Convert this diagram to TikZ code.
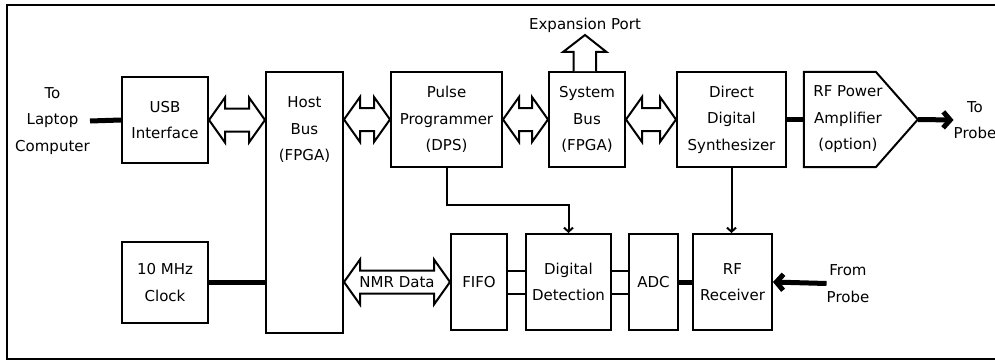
\documentclass[tikz,border=0pt]{standalone}
\usepackage{fontspec}
\setmainfont{DejaVu Sans}
\usetikzlibrary{arrows.meta,calc}
\tikzset{
    blk/.style = {draw, line width=2pt, inner sep=0pt, align=center,
        font=\fontsize{15}{26.5}\selectfont},
    txt/.style = {inner sep=0pt, align=center,
        font=\fontsize{15}{26.5}\selectfont},
    bus/.style = {draw, line width=2pt, fill=white, line join=miter},
    sig/.style = {line width=2pt},
    fat/.style = {line width=5pt},
}
% double block arrow between two tips on one level
\newcommand{\busarrow}[2]{%
    \draw[bus] (#1) -- ++(16,-22.5) -- ++(0,11) -- ($(#2)+(-16,-11.5)$)
        -- ++(0,-11) -- (#2) -- ++(-16,22.5) -- ++(0,-11)
        -- ($(#1)+(16,11.5)$) -- ++(0,11) -- cycle;}

\begin{document}
\begin{tikzpicture}[x=1pt,y=-1pt]
\useasboundingbox (0,0) rectangle (995,361);
\draw[line width=2pt] (7,5) rectangle (1010,359);

% upper row
\node[txt] (laptop) at (52.5,121) {To\\Laptop\\Computer};
\node[blk, minimum width=86, minimum height=86] (usb) at (165,120) {USB\\Interface};
\node[blk, minimum width=77, minimum height=261] (host) at (304.5,202.5) {};
\node[txt] (hosttxt) at (304.5,130) {Host\\Bus\\(FPGA)};
\node[blk, minimum width=111, minimum height=95] (pulse) at (446.5,119.5) {Pulse\\Programmer\\(DPS)};
\node[blk, minimum width=76, minimum height=95] (sysbus) at (587,119.5) {System\\Bus\\(FPGA)};
\node[txt] (expport) at (585,25) {Expansion Port};
\node[blk, minimum width=109, minimum height=95] (dds) at (731.5,119.5) {Direct\\Digital\\Synthesizer};
\node[txt, minimum width=88, minimum height=95] (amp) at (848,119.5) {RF Power\\Amplifier\\(option)};
\draw[sig] (amp.north west) -- ++(72,0) -- ($(amp.west)+(114,0)$) coordinate (amptip)
    -- ($(amp.south west)+(72,0)$) -- (amp.south west) -- cycle;
\node[txt] (toprobe) at (975,120) {To\\Probe};

% lower row
\node[blk, minimum width=86, minimum height=81] (clock) at (165,282.5) {10 MHz\\Clock};
\node[blk, minimum width=56, minimum height=96] (fifo) at (479,282) {FIFO};
\node[blk, minimum width=85, minimum height=96] (dd) at (568.5,282) {Digital\\Detection};
\node[blk, minimum width=49, minimum height=96] (adc) at (653.5,282) {ADC};
\node[blk, minimum width=79, minimum height=96] (rfrx) at (732.5,282) {RF\\Receiver};
\node[txt] (fromprobe) at (848,283.5) {From\\Probe};

% buses
\busarrow{usb.east}{usb.east -| host.west}
\busarrow{pulse.west -| host.east}{pulse.west}
\busarrow{pulse.east}{sysbus.west}
\busarrow{sysbus.east}{dds.west}
\busarrow{fifo.west -| host.east}{fifo.west}
\node[txt] (nmr) at ($(host.east |- fifo.west)!.5!(fifo.west)$) {NMR Data};
\draw[bus] ($(sysbus.north)+(-13.5,0)$) -- ++(0,-19) -- ++(-10.5,0)
    -- ($(sysbus.north)+(-2,-36)$) -- ++(21.5,17) -- ++(-10.5,0) -- ++(0,19);

% signal lines
\draw[fat] (laptop.east) -- (usb.west);
\draw[fat] (clock.east) -- (clock.east -| host.west);
\draw[fat] (dds.east) -- (amp.west);
\draw[fat, -{Straight Barb[length=7pt,width=16pt]}] (amptip) -- (toprobe.west);
\draw[fat, -{Straight Barb[length=7pt,width=16pt]}] (fromprobe.west) -- (rfrx.east);
\draw[fat] (adc.east) -- (rfrx.west);
\draw[sig, -{Straight Barb[length=4pt,width=9pt]}] (pulse.south) -- ++(0,37) -| (dd.north);
\draw[sig, -{Straight Barb[length=4pt,width=9pt]}] (dds.south) -- (dds.south |- rfrx.north);
\draw[sig] ($(fifo.east)+(0,-11.5)$) -- ($(dd.west)+(0,-11.5)$);
\draw[sig] ($(fifo.east)+(0,11.5)$) -- ($(dd.west)+(0,11.5)$);
\draw[sig] ($(dd.east)+(0,-11.5)$) -- ($(adc.west)+(0,-11.5)$);
\draw[sig] ($(dd.east)+(0,11.5)$) -- ($(adc.west)+(0,11.5)$);
\end{tikzpicture}
\end{document}
